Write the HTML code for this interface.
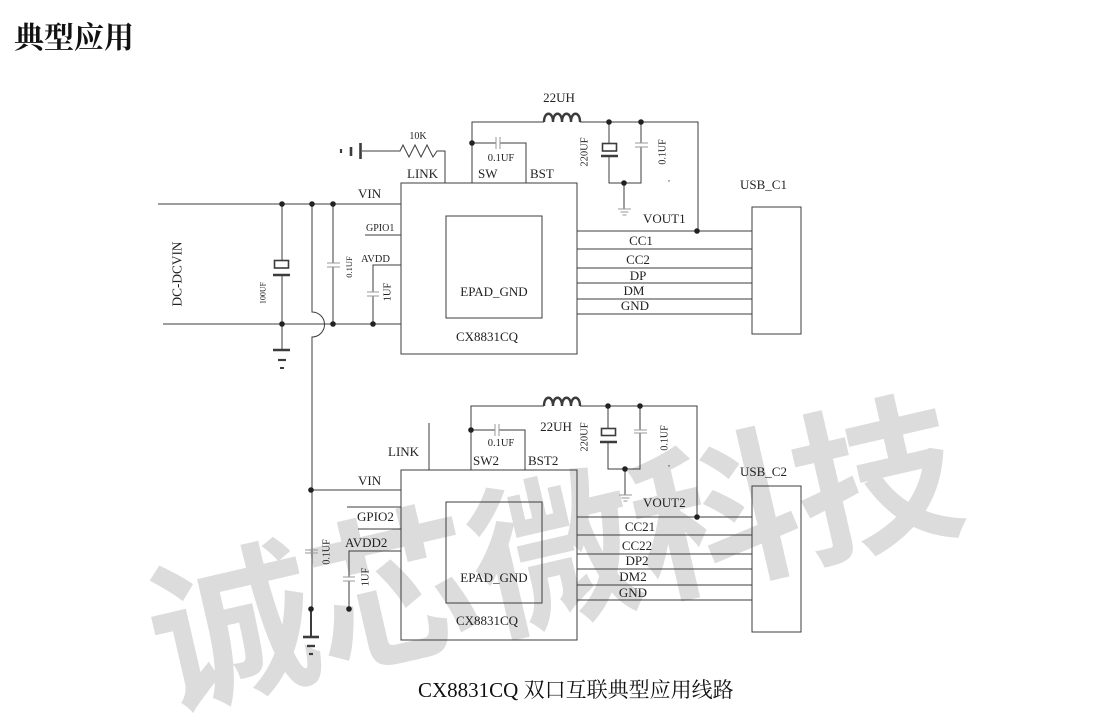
<!DOCTYPE html>
<html>
<head>
<meta charset="utf-8">
<style>
  html,body{margin:0;padding:0;background:#fff;width:1104px;height:721px;overflow:hidden;}
  svg{display:block;}
  .t{font-family:"Liberation Serif","Noto Serif CJK SC",serif;fill:#222;}
</style>
</head>
<body>
<svg width="1104" height="721" viewBox="0 0 1104 721" xmlns="http://www.w3.org/2000/svg" overflow="hidden">
  <rect width="1104" height="721" fill="#fff"/>

  <!-- watermark -->
  <text x="552" y="543" text-anchor="middle" dominant-baseline="central" transform="rotate(-13 552 543)"
        style="font-family:'Noto Sans CJK SC','WenQuanYi Zen Hei',sans-serif;font-weight:700;font-size:165px;fill:#dcdcdc;">诚芯微科技</text>

  <!-- title -->
  <text x="14" y="48" style="font-family:'Liberation Serif','Noto Serif CJK SC',serif;font-weight:700;font-size:30px;fill:#111;">典型应用</text>

  <!-- ================= TOP CIRCUIT ================= -->
  <g stroke="#3c3c3c" stroke-width="1" fill="none">
    <path d="M158,204 H401"/>
    <path d="M163,324 H401"/>
    <path d="M312,204 V312 A12.5,12.5 0 0 1 312,337 V609"/>
    <path d="M282,204 V260"/>
    <rect x="274.5" y="260.5" width="14" height="7.5" stroke-width="1.6"/>
    <path d="M273,275 H290" stroke-width="2.4"/>
    <path d="M282,276 V324"/>
    <path d="M282,324 V350"/>
    <path d="M273,350 H290" stroke-width="2.4"/>
    <path d="M278,360 H286" stroke-width="2.2"/>
    <path d="M280,368 H284" stroke-width="2"/>
    <path d="M333,204 V263"/>
    <path d="M333,267 V324"/>
    <path d="M365,235 H401"/>
    <path d="M401,265 H373 V292"/>
    <path d="M373,296 V324"/>
    <rect x="401" y="183" width="176" height="171"/>
    <rect x="446" y="216" width="96" height="102"/>
    <path d="M362,151 H400 L403,145 L409,157 L415,145 L421,157 L427,145 L433,157 L437,151 H445 V183"/>
    <path d="M360.5,143 V159" stroke-width="2.6"/>
    <path d="M351,147 V156" stroke-width="2.6"/>
    <path d="M341,149 V153" stroke-width="2.2"/>
    <path d="M472,183 V122 H544"/>
    <path d="M544,122 c0,-11 9,-11 9,0 c0,-11 9,-11 9,0 c0,-11 9,-11 9,0 c0,-11 9,-11 9,0" stroke-width="2.4"/>
    <path d="M580,122 H698 V231"/>
    <path d="M472,143 H496"/>
    <path d="M500,143 H526 V183"/>
    <path d="M609,122 V143"/>
    <rect x="602.5" y="143.5" width="14" height="7.5" stroke-width="1.6"/>
    <path d="M601,156 H618" stroke-width="2.4"/>
    <path d="M609,157 V183 H641 V147"/>
    <path d="M641,122 V143"/>
    <path d="M624,183 V209"/>
    <path d="M577,231 H752"/>
    <path d="M577,249 H752"/>
    <path d="M577,268 H752"/>
    <path d="M577,283 H752"/>
    <path d="M577,299 H752"/>
    <path d="M577,314 H752"/>
    <rect x="752" y="207" width="49" height="127"/>
  </g>
  <g stroke="#9a9a9a" stroke-width="1" fill="none">
    <path d="M327,263 H340 M327,267 H340"/>
    <path d="M367,292 H379 M367,296 H379"/>
    <path d="M496,137 V149 M500,137 V149"/>
    <path d="M635,143 H648 M635,147 H648"/>
    <path d="M618,209 H631 M620.5,212 H628.5 M622.5,215 H626.5"/>
  </g>
  <g fill="#222">
    <circle cx="282" cy="204" r="2.8"/>
    <circle cx="312" cy="204" r="2.8"/>
    <circle cx="333" cy="204" r="2.8"/>
    <circle cx="282" cy="324" r="2.8"/>
    <circle cx="333" cy="324" r="2.8"/>
    <circle cx="373" cy="324" r="2.8"/>
    <circle cx="472" cy="143" r="2.8"/>
    <circle cx="609" cy="122" r="2.8"/>
    <circle cx="641" cy="122" r="2.8"/>
    <circle cx="624" cy="183" r="2.8"/>
    <circle cx="697" cy="231" r="2.8"/>
  </g>
  <g class="t">
    <text x="559" y="102" text-anchor="middle" font-size="13">22UH</text>
    <text x="418" y="139" text-anchor="middle" font-size="10">10K</text>
    <text x="501" y="161" text-anchor="middle" font-size="10.5">0.1UF</text>
    <text x="407" y="178" font-size="13">LINK</text>
    <text x="478" y="178" font-size="13">SW</text>
    <text x="530" y="178" font-size="13">BST</text>
    <text x="358" y="198" font-size="13">VIN</text>
    <text x="366" y="231" font-size="10">GPIO1</text>
    <text x="361" y="262" font-size="10.5">AVDD</text>
    <text x="494" y="296" text-anchor="middle" font-size="13">EPAD_GND</text>
    <text x="487" y="341" text-anchor="middle" font-size="13">CX8831CQ</text>
    <text x="643" y="223" font-size="13">VOUT1</text>
    <text x="740" y="189" font-size="13">USB_C1</text>
    <text x="641" y="245" text-anchor="middle" font-size="13">CC1</text>
    <text x="638" y="264" text-anchor="middle" font-size="13">CC2</text>
    <text x="638" y="280" text-anchor="middle" font-size="13">DP</text>
    <text x="634" y="295" text-anchor="middle" font-size="13">DM</text>
    <text x="635" y="310" text-anchor="middle" font-size="13">GND</text>
    <text x="668" y="181" font-size="8">,</text>
    <text x="585" y="152" text-anchor="middle" dominant-baseline="central" font-size="10.5" transform="rotate(-90 585 152)">220UF</text>
    <text x="663" y="152" text-anchor="middle" dominant-baseline="central" font-size="10" transform="rotate(-90 663 152)">0.1UF</text>
    <text x="263" y="293" text-anchor="middle" dominant-baseline="central" font-size="8" transform="rotate(-90 263 293)">100UF</text>
    <text x="349" y="267" text-anchor="middle" dominant-baseline="central" font-size="8.5" transform="rotate(-90 349 267)">0.1UF</text>
    <text x="388" y="292" text-anchor="middle" dominant-baseline="central" font-size="10.5" transform="rotate(-90 388 292)">1UF</text>
    <text x="177" y="274" text-anchor="middle" dominant-baseline="central" font-size="13.3" transform="rotate(-90 177 274)">DC-DCVIN</text>
  </g>

  <!-- ================= BOTTOM CIRCUIT ================= -->
  <g stroke="#3c3c3c" stroke-width="1" fill="none">
    <path d="M471,470 V406 H544"/>
    <path d="M544,406 c0,-11 9,-11 9,0 c0,-11 9,-11 9,0 c0,-11 9,-11 9,0 c0,-11 9,-11 9,0" stroke-width="2.4"/>
    <path d="M580,406 H697 V517"/>
    <path d="M471,430 H495"/>
    <path d="M499,430 H525 V470"/>
    <path d="M429,423 V470"/>
    <path d="M608,406 V428"/>
    <rect x="601.5" y="428.5" width="14" height="7" stroke-width="1.6"/>
    <path d="M600,442 H617" stroke-width="2.4"/>
    <path d="M608,443 V469 H640 V433"/>
    <path d="M640,406 V430"/>
    <path d="M625,469 V495"/>
    <rect x="401" y="470" width="176" height="170"/>
    <rect x="446" y="502" width="96" height="101"/>
    <path d="M311,490 H401"/>
    <path d="M347,507 H401"/>
    <path d="M358,529 H401"/>
    <path d="M401,551 H349 V577"/>
    <path d="M349,581 V609"/>
    <path d="M311,609 V637" stroke-width="2"/>
    <path d="M303,637 H319" stroke-width="2.6"/>
    <path d="M307,646 H315" stroke-width="2.4"/>
    <path d="M309,654 H313" stroke-width="2.2"/>
    <path d="M577,517 H752"/>
    <path d="M577,535 H752"/>
    <path d="M577,554 H752"/>
    <path d="M577,569 H752"/>
    <path d="M577,585 H752"/>
    <path d="M577,600 H752"/>
    <rect x="752" y="486" width="49" height="146"/>
  </g>
  <g stroke="#9a9a9a" stroke-width="1" fill="none">
    <path d="M495,424 V436 M499,424 V436"/>
    <path d="M634,430 H647 M634,433 H647"/>
    <path d="M305,550 H318 M305,553 H318"/>
    <path d="M343,577 H355 M343,581 H355"/>
    <path d="M619,495 H632 M621.5,498 H629.5 M623.5,501 H627.5"/>
  </g>
  <g fill="#222">
    <circle cx="471" cy="430" r="2.8"/>
    <circle cx="608" cy="406" r="2.8"/>
    <circle cx="640" cy="406" r="2.8"/>
    <circle cx="625" cy="469" r="2.8"/>
    <circle cx="697" cy="517" r="2.8"/>
    <circle cx="311" cy="490" r="2.8"/>
    <circle cx="311" cy="609" r="2.8"/>
    <circle cx="349" cy="609" r="2.8"/>
  </g>
  <g class="t">
    <text x="556" y="431" text-anchor="middle" font-size="13">22UH</text>
    <text x="501" y="446" text-anchor="middle" font-size="10.5">0.1UF</text>
    <text x="388" y="456" font-size="13">LINK</text>
    <text x="473" y="465" font-size="13">SW2</text>
    <text x="528" y="465" font-size="13">BST2</text>
    <text x="358" y="485" font-size="13">VIN</text>
    <text x="357" y="521" font-size="13">GPIO2</text>
    <text x="345" y="547" font-size="13">AVDD2</text>
    <text x="494" y="582" text-anchor="middle" font-size="13">EPAD_GND</text>
    <text x="487" y="625" text-anchor="middle" font-size="13">CX8831CQ</text>
    <text x="643" y="507" font-size="13">VOUT2</text>
    <text x="740" y="476" font-size="13">USB_C2</text>
    <text x="640" y="531" text-anchor="middle" font-size="13">CC21</text>
    <text x="637" y="550" text-anchor="middle" font-size="13">CC22</text>
    <text x="637" y="565" text-anchor="middle" font-size="13">DP2</text>
    <text x="633" y="581" text-anchor="middle" font-size="13">DM2</text>
    <text x="633" y="597" text-anchor="middle" font-size="13">GND</text>
    <text x="668" y="466" font-size="8">,</text>
    <text x="585" y="437" text-anchor="middle" dominant-baseline="central" font-size="10.5" transform="rotate(-90 585 437)">220UF</text>
    <text x="665" y="438" text-anchor="middle" dominant-baseline="central" font-size="10" transform="rotate(-90 665 438)">0.1UF</text>
    <text x="327" y="552" text-anchor="middle" dominant-baseline="central" font-size="10" transform="rotate(-90 327 552)">0.1UF</text>
    <text x="366" y="577" text-anchor="middle" dominant-baseline="central" font-size="10.5" transform="rotate(-90 366 577)">1UF</text>
  </g>

  <!-- caption -->
  <text x="418" y="697" style="font-family:'Liberation Serif','Noto Serif CJK SC',serif;font-size:21px;fill:#111;">CX8831CQ 双口互联典型应用线路</text>
</svg>
</body>
</html>
